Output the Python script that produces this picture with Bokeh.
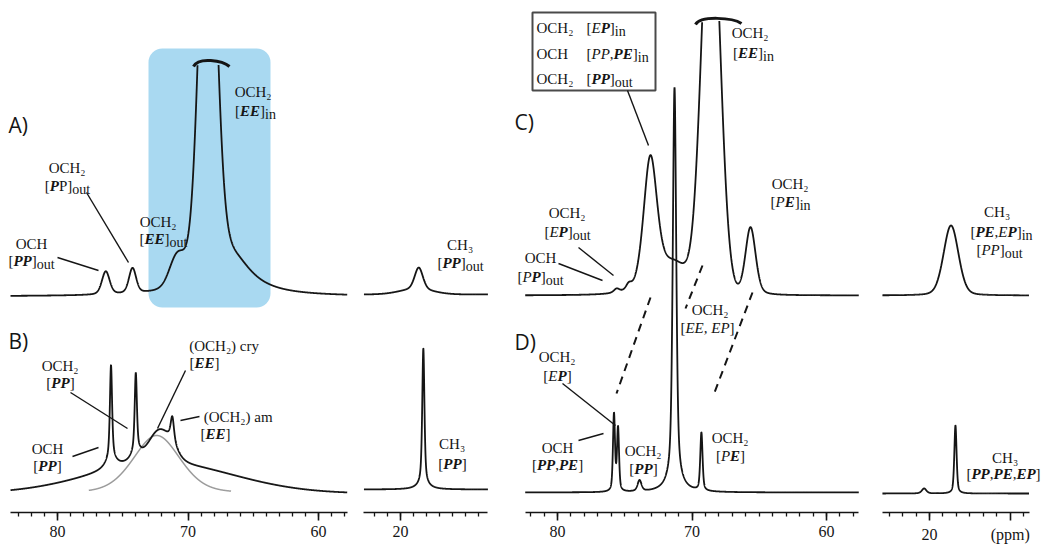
import re
import numpy as np
from bokeh.plotting import figure
from bokeh.layouts import row
from bokeh.models import Range1d, Label, FixedTicker
from bokeh.embed import file_html
from bokeh.resources import INLINE

# ------------------------------------------------------------------
# Data: peak tables
# (position ppm, height above baseline, full width ppm, lorentzian fraction)
# ------------------------------------------------------------------
A_ppm    = [76.3, 74.25, 70.8, 68.5, 68.3, 66.5]
A_height = [23, 25, 30, 385, 70, 30]
A_fwhm   = [0.7, 0.65, 1.41, 1.5, 2.0, 3.6]
A_eta    = [0.3, 0.3, 0.0, 0.0, 1.0, 1.0]

B_ppm    = [75.9, 74.0, 71.2, 75.9, 74.0, 71.2, 72.2, 72.0]
B_height = [92, 77, 23, 12, 12, 10, 30, 30]
B_fwhm   = [0.2, 0.2, 0.3, 1.0, 1.0, 1.2, 1.9, 12.95]
B_eta    = [0.6, 0.6, 0.6, 1.0, 1.0, 1.0, 0.0, 0.0]

B_fit_ppm    = [72.4]
B_fit_height = [58]
B_fit_fwhm   = [4.25]
B_fit_eta    = [0.3]
B_fit_span   = [77.6, 66.7]

A_ch3_ppm    = [18.6, 18.8]
A_ch3_height = [22, 5]
A_ch3_fwhm   = [0.75, 3.0]
A_ch3_eta    = [0.3, 0.0]

B_ch3_ppm    = [18.25, 18.25]
B_ch3_height = [135, 6]
B_ch3_fwhm   = [0.2, 1.0]
B_ch3_eta    = [0.6, 1.0]

C_ppm    = [75.6, 74.7, 73.1, 71.3, 68.6, 65.65]
C_height = [4, 6, 133, 30, 420, 68]
C_fwhm   = [0.5, 0.5, 1.2, 2.5, 1.6, 0.9]
C_eta    = [0.5, 0.5, 0.4, 0.0, 0.0, 0.3]

C_ch3_ppm    = [18.4]
C_ch3_height = [70]
C_ch3_fwhm   = [1.3]
C_ch3_eta    = [0.2]

D_ppm    = [75.8, 75.5, 73.9, 71.3, 71.3, 69.3]
D_height = [77, 63, 11, 385, 20, 58]
D_fwhm   = [0.18, 0.18, 0.35, 0.3, 1.0, 0.2]
D_eta    = [0.5, 0.5, 0.5, 0.5, 1.0, 0.5]

D_ch3_ppm    = [18.07, 20.4]
D_ch3_height = [68, 5]
D_ch3_fwhm   = [0.2, 0.4]
D_ch3_eta    = [0.5, 0.5]

main_ticks = [80, 70, 60]
small_ticks = [20]
unit_tick = 14          # position of the "(ppm)" unit label on the last axis
unit_text = "(ppm)"

# ------------------------------------------------------------------
FONT = "Liberation Serif"
SANS = "Open Sans"
INK = "#151515"
H = 552
Y0, Y1 = -20, 492          # data y range (1 unit = 1 px)
LBL = 15                   # label font size

def pv(x, c, h, fwhm, eta):
    hw = fwhm / 2.0
    d = (x - c) / hw
    return h * (eta / (1 + d * d) + (1 - eta) * np.exp(-np.log(2) * d * d))

def spectrum(x, ppm, height, fwhm, eta):
    y = np.zeros_like(x)
    for c, h, f, e in zip(ppm, height, fwhm, eta):
        y += pv(x, c, h, f, e)
    return y

# panel geometry: (page_left, width, ppm at left edge, ppm at right edge, axis lo, axis hi)
GEOM = {
    "L":  (0,   355, 84.368, 57.165, 57.8, 83.6),
    "Ls": (355, 150, 23.448, 11.954, 13.3, 22.8),
    "R":  (505, 365, 83.866, 56.729, 57.6, 82.4),
    "Rs": (870, 173, 24.387, 11.524, 12.6, 23.5),
}
figs = {}

def make_fig(key, major, minor):
    pl, w, s, e, lo, hi = GEOM[key]
    p = figure(width=w, height=H, x_range=Range1d(s, e), y_range=Range1d(Y0, Y1),
               output_backend="svg", toolbar_location=None, y_axis_location=None,
               min_border_left=0, min_border_right=0, min_border_top=0, min_border_bottom=40,
               background_fill_color="white", border_fill_color="white", outline_line_color=None)
    p.xgrid.visible = False
    p.ygrid.visible = False
    ax = p.xaxis[0]
    ax.bounds = (lo, hi)
    ax.ticker = FixedTicker(ticks=major, minor_ticks=minor)
    ax.axis_line_width = 1.6
    ax.axis_line_color = INK
    ax.major_tick_line_color = INK
    ax.minor_tick_line_color = INK
    ax.major_tick_line_width = 1.6
    ax.minor_tick_line_width = 1.3
    ax.major_tick_out = 8
    ax.major_tick_in = 0
    ax.minor_tick_out = 4
    ax.minor_tick_in = 0
    ax.major_label_text_font = FONT
    ax.major_label_text_font_size = "16px"
    ax.major_label_text_color = INK
    ax.major_label_standoff = 5
    figs[key] = p
    return p

def px2x(key, xp):
    pl, w, s, e, lo, hi = GEOM[key]
    return s + (xp - pl) / w * (e - s)

def px2y(yp):
    return Y1 - yp

REG = {'[': 333, ']': 333, ',': 250, ' ': 250, '(': 333, ')': 333, 'O': 722, 'C': 667,
       'H': 722, 'E': 611, 'P': 556, 'a': 444, 'm': 778, 'c': 444, 'r': 333, 'y': 500,
       'o': 500, 'u': 500, 't': 278, 'i': 278, 'n': 500, '\u2082': 400, '\u2083': 400, 'p': 500}
ITA = {'P': 611, 'E': 611, ',': 250, ' ': 250}
BIT = {'P': 611, 'E': 667, ',': 250, ' ': 250}

def parse(markup):
    out = []
    for st, inner, plain in re.findall(r'\{([bis]):([^}]*)\}|([^{]+)', markup):
        if plain:
            out.append(("n", plain))
        else:
            out.append((st, inner))
    return out

def seg_width(text, st, size):
    table = {"b": BIT, "i": ITA}.get(st, REG)
    return sum(table.get(ch, REG.get(ch, 500)) for ch in text) / 1000.0 * size

def put(key, xp, yp, markup, align="center", size=LBL):
    p = figs[key]
    segs = parse(markup)
    sizes = [size - 1 if st == "s" else size for st, _ in segs]
    widths = [seg_width(t, st, fs) for (st, t), fs in zip(segs, sizes)]
    x0 = xp - sum(widths) / 2.0 if align == "center" else xp
    for (st, t), fs, w in zip(segs, sizes, widths):
        style = {"b": "bold italic", "i": "italic"}.get(st, "normal")
        dy = 4 if st == "s" else 0
        p.add_layout(Label(x=px2x(key, x0), y=px2y(yp + dy), text=t, text_font=FONT,
                           text_font_size=f"{fs}px", text_font_style=style,
                           text_baseline="middle", text_align="left", text_color=INK))
        x0 += w

def leader(key, x0, y0, x1, y1, dash="solid", width=1.4):
    figs[key].segment(x0=[px2x(key, x0)], y0=[px2y(y0)], x1=[px2x(key, x1)], y1=[px2y(y1)],
                      line_color=INK, line_width=width, line_dash=dash)

def letter(key, xp, yp, t):
    figs[key].add_layout(Label(x=px2x(key, xp), y=px2y(yp), text=t, text_font=SANS,
                               text_font_size="21px", text_baseline="middle",
                               text_align="left", text_color=INK))

def draw(key, ppm, height, fwhm, eta, offset, clip=None, span=None, color=INK, width=1.8):
    pl, w, s, e, lo, hi = GEOM[key]
    a, b = span if span else (hi, lo)
    x = np.linspace(a, b, 4000)
    y = spectrum(x, ppm, height, fwhm, eta)
    if clip is not None:
        y[y > clip] = np.nan
    figs[key].line(x, y + offset, line_color=color, line_width=width)

# ------------------------------------------------------------------
pL = make_fig("L", main_ticks, list(range(58, 84)))
pLs = make_fig("Ls", small_ticks, list(range(14, 23)))
pR = make_fig("R", main_ticks, list(range(58, 83)))
pRs = make_fig("Rs", small_ticks + [unit_tick],
               [t for t in range(13, 24) if t != unit_tick])
pRs.xaxis[0].major_label_overrides = {unit_tick: unit_text}

# blue highlight box (A)
pL.quad(left=[px2x("L", 148)], right=[px2x("L", 270)], bottom=[px2y(307)], top=[px2y(48)],
        fill_color="#a9d9f1", line_color=None, border_radius=14)

# spectra
draw("L", A_ppm, A_height, A_fwhm, A_eta, 196, clip=233)
draw("L", B_fit_ppm, B_fit_height, B_fit_fwhm, B_fit_eta, -1, span=B_fit_span,
     color="#9a9a9a", width=1.5)
draw("L", B_ppm, B_height, B_fwhm, B_eta, -1)
draw("Ls", A_ch3_ppm, A_ch3_height, A_ch3_fwhm, A_ch3_eta, 198)
draw("Ls", B_ch3_ppm, B_ch3_height, B_ch3_fwhm, B_ch3_eta, 3)
draw("R", C_ppm, C_height, C_fwhm, C_eta, 197, clip=275)
draw("R", D_ppm, D_height, D_fwhm, D_eta, 0)
draw("Rs", C_ch3_ppm, C_ch3_height, C_ch3_fwhm, C_ch3_eta, 197)
draw("Rs", D_ch3_ppm, D_ch3_height, D_ch3_fwhm, D_ch3_eta, -1)

# break marks on truncated peaks
pL.bezier(x0=[px2x("L", 193)], y0=[px2y(66)], x1=[px2x("L", 229)], y1=[px2y(66)],
          cx0=[px2x("L", 198)], cy0=[px2y(56)], cx1=[px2x("L", 222)], cy1=[px2y(60)],
          line_color=INK, line_width=3)
pR.bezier(x0=[px2x("R", 695)], y0=[px2y(24)], x1=[px2x("R", 741)], y1=[px2y(23)],
          cx0=[px2x("R", 700)], cy0=[px2y(15)], cx1=[px2x("R", 732)], cy1=[px2y(17)],
          line_color=INK, line_width=3)

# panel letters
letter("L", 8, 124, "A)")
letter("L", 8, 340, "B)")
letter("R", 514, 121, "C)")
letter("R", 514, 341, "D)")

# ---- labels panel A ----
put("L", 31, 243, "OCH")
put("L", 31, 260, "[{b:PP}]{s:out}")
leader("L", 57, 257, 98, 270)
put("L", 67, 167, "OCH\u2082")
put("L", 67, 185, "[{b:P}P]{s:out}")
leader("L", 86, 192, 128, 262)
put("L", 158, 221, "OCH\u2082")
put("L", 163, 238, "[{b:EE}]{s:out}")
put("L", 253, 91, "OCH\u2082")
put("L", 255, 110, "[{b:EE}]{s:in}")
# ---- labels panel B ----
put("L", 60, 365, "OCH\u2082")
put("L", 60, 382, "[{b:PP}]")
leader("L", 70, 392, 127, 428)
put("L", 47, 448, "OCH")
put("L", 47, 465, "[{b:PP}]")
leader("L", 72, 456, 98, 447)
put("L", 224, 345, "(OCH\u2082) cry")
put("L", 204, 362, "[{b:EE}]")
leader("L", 185, 370, 157, 428)
put("L", 238, 416, "(OCH\u2082) am")
put("L", 215, 433, "[{b:EE}]")
leader("L", 180, 420, 199, 416)
# ---- labels small left ----
put("Ls", 460, 244, "CH\u2083")
put("Ls", 460, 262, "[{b:PP}]{s:out}")
put("Ls", 452, 443, "CH\u2083")
put("Ls", 452, 463, "[{b:PP}]")

# ---- panel C box ----
pR.quad(left=[px2x("R", 532)], right=[px2x("R", 655)], bottom=[px2y(90)], top=[px2y(12)],
        fill_color="white", line_color="#4a4a4a", line_width=2)
put("R", 536, 27, "OCH\u2082", align="left")
put("R", 586, 27, "[{i:E}{b:P}]{s:in}", align="left")
put("R", 536, 53, "OCH", align="left")
put("R", 586, 53, "[{i:PP},{b:PE}]{s:in}", align="left")
put("R", 536, 78, "OCH\u2082", align="left")
put("R", 586, 78, "[{b:PP}]{s:out}", align="left")
leader("R", 627, 90, 648, 145)
put("R", 750, 32, "OCH\u2082")
put("R", 753, 52, "[{b:EE}]{s:in}")
put("R", 790, 183, "OCH\u2082")
put("R", 790, 201, "[{i:P}{b:E}]{s:in}")
put("R", 567, 212, "OCH\u2082")
put("R", 567, 231, "[{i:E}{b:P}]{s:out}")
leader("R", 578, 247, 613, 275)
put("R", 540, 257, "OCH")
put("R", 540, 276, "[{i:P}{b:P}]{s:out}")
leader("R", 558, 263, 602, 280)
# dashed correlation lines C -> D
leader("R", 650, 297, 616, 393, dash="8 6", width=2)
leader("R", 702, 265, 685, 308, dash="8 6", width=2)
leader("R", 752, 292, 714, 392, dash="8 6", width=2)
# ---- panel D ----
put("R", 557, 356, "OCH\u2082")
put("R", 557, 375, "[{i:E}{b:P}]")
leader("R", 562, 383, 615, 425)
put("R", 557, 447, "OCH")
put("R", 557, 464, "[{b:PP},{b:PE}]")
leader("R", 578, 440, 603, 433)
put("R", 643, 450, "OCH\u2082")
put("R", 643, 468, "[{b:PP}]")
put("R", 710, 309, "OCH\u2082")
put("R", 707, 327, "[{i:EE, EP}]")
put("R", 730, 437, "OCH\u2082")
put("R", 730, 455, "[{i:P}{b:E}]")
# ---- small right ----
put("Rs", 997, 211, "CH\u2083")
put("Rs", 1001, 231, "[{b:PE},{i:E}{b:P}]{s:in}")
put("Rs", 999, 249, "[{i:PP}]{s:out}")
put("Rs", 1005, 457, "CH\u2083")
put("Rs", 1003, 473, "[{b:PP},{b:PE},{b:EP}]")

layout = row(pL, pLs, pR, pRs, spacing=0)
open("out.html", "w").write(file_html(layout, INLINE))
